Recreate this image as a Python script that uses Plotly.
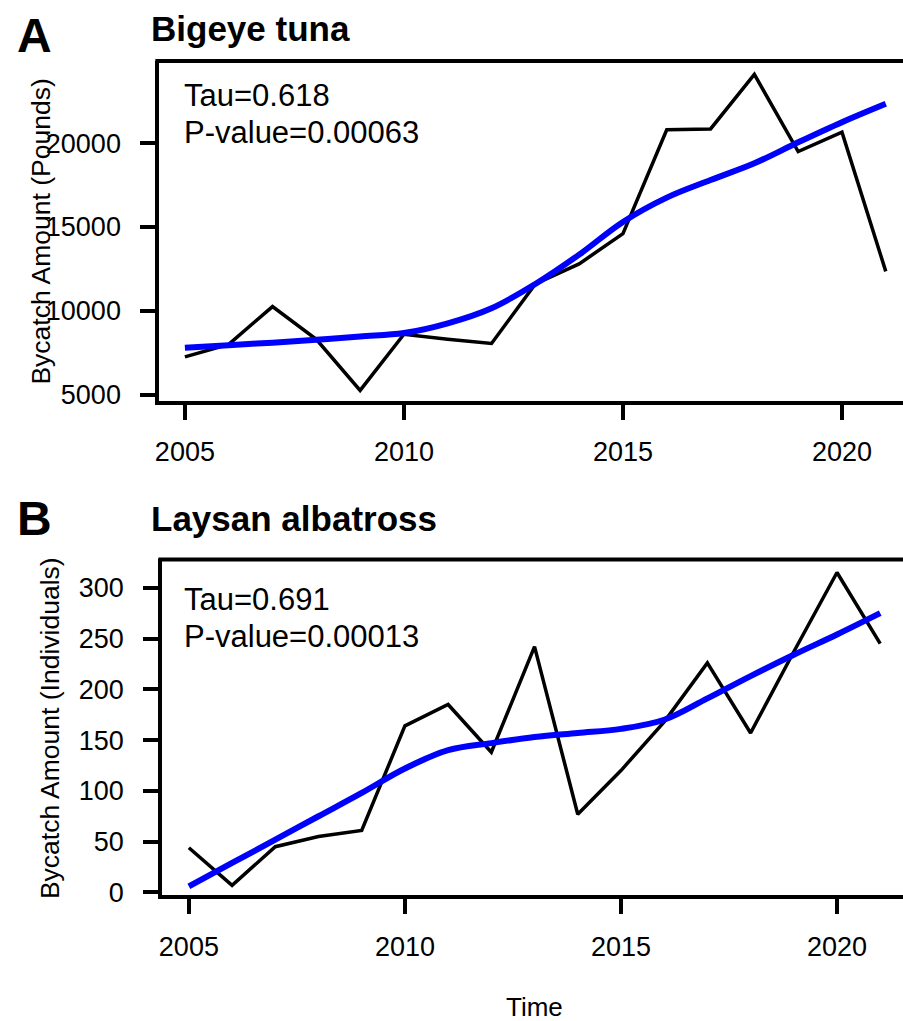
import plotly.graph_objects as go

# Annual bycatch series with fitted trend curves
years = list(range(2005, 2022))

tuna_bycatch = [7250, 8000, 10250, 8300, 5250, 8600, 8300, 8050, 11600,
                12800, 14600, 20800, 20850, 24100, 19500, 20650, 12350]
tuna_trend = [7800, 7950, 8100, 8270, 8470, 8670, 9250, 10150, 11600,
              13350, 15300, 16750, 17800, 18800, 20050, 21250, 22350]

albatross_bycatch = [44, 7, 45, 55, 61, 164, 185, 138, 242, 77, 120,
                     168, 226, 157, 237, 315, 245]
albatross_trend = [6, 29, 52, 75, 98, 122, 140, 147, 153, 157, 161,
                   170, 191, 213, 234, 254, 275]

x_ticks = [2005, 2010, 2015, 2020]
tuna_ticks = [5000, 10000, 15000, 20000]
tuna_tick_text = ["5000", "10000", "15000", "20000"]
albatross_ticks = [0, 50, 100, 150, 200, 250, 300]
albatross_tick_text = ["0", "50", "100", "150", "200", "250", "300"]

# Layout is laid out on a 903 x 1021 grid of positions
W, H_GRID = 903, 1021
H = 1033
FONT = "Liberation Sans"


def px_x(p):
    return p / W


def px_y(p):
    return 1 - p / H_GRID


fig = go.Figure()

fig.add_trace(go.Scatter(x=years, y=tuna_bycatch, mode="lines",
                         line=dict(color="black", width=3.5),
                         xaxis="x", yaxis="y", showlegend=False))
fig.add_trace(go.Scatter(x=years, y=tuna_trend, mode="lines",
                         line=dict(color="#0000ff", width=6, shape="spline"),
                         xaxis="x", yaxis="y", showlegend=False))
fig.add_trace(go.Scatter(x=years, y=albatross_bycatch, mode="lines",
                         line=dict(color="black", width=3.5),
                         xaxis="x2", yaxis="y2", showlegend=False))
fig.add_trace(go.Scatter(x=years, y=albatross_trend, mode="lines",
                         line=dict(color="#0000ff", width=6, shape="spline"),
                         xaxis="x2", yaxis="y2", showlegend=False))

axis_common = dict(showline=True, linewidth=4, linecolor="black",
                   ticks="outside", ticklen=15, tickwidth=3.5, tickcolor="black",
                   showgrid=False, zeroline=False,
                   tickfont=dict(family=FONT, size=27, color="black"))

# Panel A geometry (grid pixels)
a_left, a_top, a_bottom = 156, 61, 401
a_px_per_year = 44.0
a_x2005 = 181.7
a_y5000, a_y20000 = 395.0, 143.3
a_units_per_px = 15000 / (a_y5000 - a_y20000)

# Panel B geometry (grid pixels)
b_left, b_top, b_bottom = 159, 560, 896
b_px_per_year = 43.4
b_x2005 = 185.7
b_y0, b_y300 = 893.3, 588.3
b_units_per_px = 300 / (b_y0 - b_y300)

fig.update_layout(
    width=W, height=H,
    margin=dict(l=0, r=0, t=0, b=0),
    paper_bgcolor="white", plot_bgcolor="white",
    xaxis=dict(axis_common, domain=[px_x(a_left), 1], anchor="y",
               range=[2005 - (a_x2005 - a_left) / a_px_per_year,
                      2005 + (W - a_x2005) / a_px_per_year],
               tickvals=x_ticks, ticklabelstandoff=9),
    yaxis=dict(axis_common, domain=[px_y(a_bottom), px_y(a_top)], anchor="x",
               range=[5000 - (a_bottom - a_y5000) * a_units_per_px,
                      20000 + (a_y20000 - a_top) * a_units_per_px],
               tickvals=tuna_ticks, ticktext=tuna_tick_text,
               ticklabelstandoff=14),
    xaxis2=dict(axis_common, domain=[px_x(b_left), 1], anchor="y2",
                range=[2005 - (b_x2005 - b_left) / b_px_per_year,
                       2005 + (W - b_x2005) / b_px_per_year],
                tickvals=x_ticks, ticklabelstandoff=9),
    yaxis2=dict(axis_common, domain=[px_y(b_bottom), px_y(b_top)], anchor="x2",
                range=[0 - (b_bottom - b_y0) * b_units_per_px,
                       300 + (b_y300 - b_top) * b_units_per_px],
                tickvals=albatross_ticks, ticktext=albatross_tick_text,
                ticklabelstandoff=14),
)

# Top edges of the plot boxes
for top, left in [(a_top, a_left), (b_top, b_left)]:
    fig.add_shape(type="line", xref="paper", yref="paper",
                  x0=px_x(left - 4), x1=1, y0=px_y(top), y1=px_y(top),
                  line=dict(color="black", width=4))


def label(text, x, y, size, bold=False, xanchor="left", angle=0):
    fig.add_annotation(text=f"<b>{text}</b>" if bold else text,
                       xref="paper", yref="paper",
                       x=px_x(x), y=px_y(y), xanchor=xanchor, yanchor="middle",
                       showarrow=False, textangle=angle,
                       font=dict(family=FONT, size=size, color="black"))


label("A", 31, 36, 48, bold=True, xanchor="center")
label("Bigeye tuna", 146, 29, 35, bold=True)
label("Tau=0.618", 179, 96, 31)
label("P-value=0.00063", 179, 133, 31)
label("Bycatch Amount (Pounds)", 37, 232, 26.5, xanchor="center", angle=-90)

label("B", 31, 519, 48, bold=True, xanchor="center")
label("Laysan albatross", 146, 519, 35, bold=True)
label("Tau=0.691", 179, 600, 31)
label("P-value=0.00013", 179, 637, 31)
label("Bycatch Amount (Individuals)", 46, 729, 26.5, xanchor="center", angle=-90)

label("Time", 533, 1008, 26, xanchor="center")

fig.write_html("out.html")
